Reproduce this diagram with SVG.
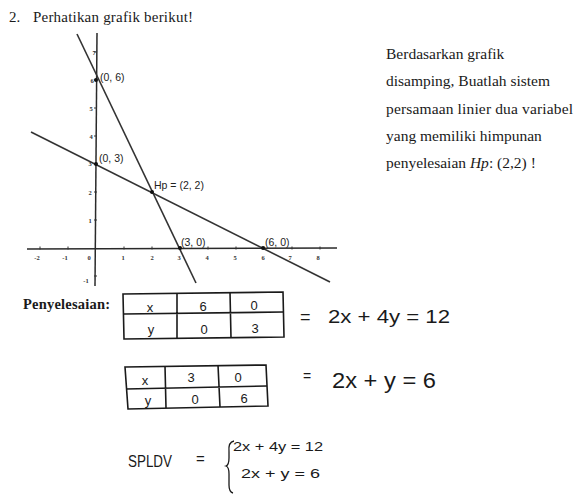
<svg xmlns="http://www.w3.org/2000/svg" width="576" height="497" viewBox="0 0 576 497">
<style>
.serif{font-family:"Liberation Serif","Times New Roman",serif;fill:#1a1a1a}
.lbl{font-family:"Liberation Sans",Arial,sans-serif;font-size:10.5px;fill:#222}
.tick{font-family:"Liberation Serif",serif;font-size:6.5px;font-weight:bold;fill:#333;text-anchor:middle}
.ax{stroke:#2a2a2a;stroke-width:1.5;fill:none}
.ln{stroke:#333;stroke-width:1.6;fill:none}
.hand{font-family:"Liberation Sans",Arial,sans-serif;fill:#1a1a1a}
.tbl{stroke:#1a1a1a;stroke-width:1.6;fill:none}
.cell{font-family:"Liberation Sans",Arial,sans-serif;font-size:13px;fill:#1a1a1a;text-anchor:middle}
</style>
<rect width="576" height="497" fill="#ffffff"/>

<g id="title">
<text class="serif" x="9" y="22" font-size="15">2.</text>
<text class="serif" x="33" y="22" font-size="15" textLength="160">Perhatikan grafik berikut!</text>
</g>

<g id="graph">
<line class="ax" x1="27" y1="249" x2="337" y2="248"/>
<line class="ax" x1="97" y1="33" x2="95" y2="286"/>
<g stroke="#333" stroke-width="1">
<path d="M40 246.5v3M68 246.5v3M124 246.5v3M152 246.5v3M180 246.5v3M208 246.5v3M236 246.5v3M264 246.5v3M292 246.5v3M320 246.5v3"/>
<path d="M94 52h3M94 80h3M94 108h3M94 136h3M94 164h3M94 192h3M94 220h3M94 276h3"/>
</g>
<g class="tick">
<text x="37" y="260">-2</text>
<text x="65" y="260">-1</text>
<text x="89" y="260">0</text>
<text x="123" y="260">1</text>
<text x="152" y="260">2</text>
<text x="179" y="260">3</text>
<text x="207" y="260">4</text>
<text x="235" y="260">5</text>
<text x="263" y="260">6</text>
<text x="290" y="260">7</text>
<text x="318" y="260">8</text>
<text x="94" y="55">7</text>
<text x="92" y="83">6</text>
<text x="91" y="111">5</text>
<text x="91" y="139">4</text>
<text x="90" y="166">3</text>
<text x="90" y="195">2</text>
<text x="90" y="223">1</text>
<text x="86" y="283">-1</text>
</g>
<g id="connectors">
<line class="ln" x1="77" y1="34" x2="196" y2="283"/>
<line class="ln" x1="31" y1="132" x2="330" y2="282"/>
</g>
<g fill="#111">
<circle cx="96" cy="80" r="2"/>
<circle cx="96" cy="164" r="2"/>
<circle cx="152" cy="192" r="2"/>
<circle cx="180" cy="248" r="2"/>
<circle cx="263" cy="248" r="2"/>
</g>
<text class="lbl" x="100" y="81">(0, 6)</text>
<text class="lbl" x="99" y="162">(0, 3)</text>
<text class="lbl" x="154" y="189">Hp = (2, 2)</text>
<text class="lbl" x="181" y="246">(3, 0)</text>
<text class="lbl" x="265" y="246">(6, 0)</text>
</g>

<g id="question" font-size="15.5">
<text class="serif" x="386" y="59">Berdasarkan grafik</text>
<text class="serif" x="386" y="86">disamping, Buatlah sistem</text>
<text class="serif" x="386" y="114" textLength="187">persamaan linier dua variabel</text>
<text class="serif" x="386" y="141">yang memiliki himpunan</text>
<text class="serif" x="386" y="168">penyelesaian <tspan font-style="italic">Hp</tspan>: (2,2) !</text>
</g>

<g id="label-penyelesaian">
<text class="serif" x="23" y="309" font-size="14.5" font-weight="bold" textLength="87">Penyelesaian:</text>
</g>

<g id="table1">
<path class="tbl" d="M123 294 L283 292 L284 337 L124 339 Z"/>
<path class="tbl" d="M124 314 L283 312 M177 293 L177 338 M230 292 L231 338"/>
<text class="cell" x="150" y="312">x</text>
<text class="cell" x="203" y="311">6</text>
<text class="cell" x="254" y="310">0</text>
<text class="cell" x="151" y="334">y</text>
<text class="cell" x="204" y="334">0</text>
<text class="cell" x="255" y="333">3</text>
</g>
<g id="eq1">
<text class="hand" x="300" y="323" font-size="18">=</text>
<text class="hand" x="328" y="323" font-size="18" textLength="122" lengthAdjust="spacingAndGlyphs">2x + 4y = 12</text>
</g>

<g id="table2">
<path class="tbl" d="M125 367 L266 365 L268 406 L128 409 Z"/>
<path class="tbl" d="M126 389 L267 386 M165 366 L166 408 M218 365 L220 407"/>
<text class="cell" x="145" y="385">x</text>
<text class="cell" x="191" y="382">3</text>
<text class="cell" x="238" y="382">0</text>
<text class="cell" x="148" y="405">y</text>
<text class="cell" x="195" y="404">0</text>
<text class="cell" x="244" y="403">6</text>
</g>
<g id="eq2">
<text class="hand" x="303" y="381" font-size="14">=</text>
<text class="hand" x="332" y="388" font-size="22" textLength="104" lengthAdjust="spacingAndGlyphs">2x + y = 6</text>
</g>

<g id="spldv">
<text class="hand" x="128" y="467" font-size="16" textLength="44" lengthAdjust="spacingAndGlyphs">SPLDV</text>
<text class="hand" x="196" y="464" font-size="15">=</text>
<path d="M234 441 Q228 442 229 452 L229 458 Q229 465 226 466 Q229 467 229 474 L229 485 Q229 492 233 493" stroke="#1a1a1a" stroke-width="1.3" fill="none"/>
<text class="hand" x="233" y="451" font-size="13.5" textLength="90" lengthAdjust="spacingAndGlyphs">2x + 4y = 12</text>
<text class="hand" x="241" y="478" font-size="13.5" textLength="79" lengthAdjust="spacingAndGlyphs">2x + y = 6</text>
</g>
</svg>
